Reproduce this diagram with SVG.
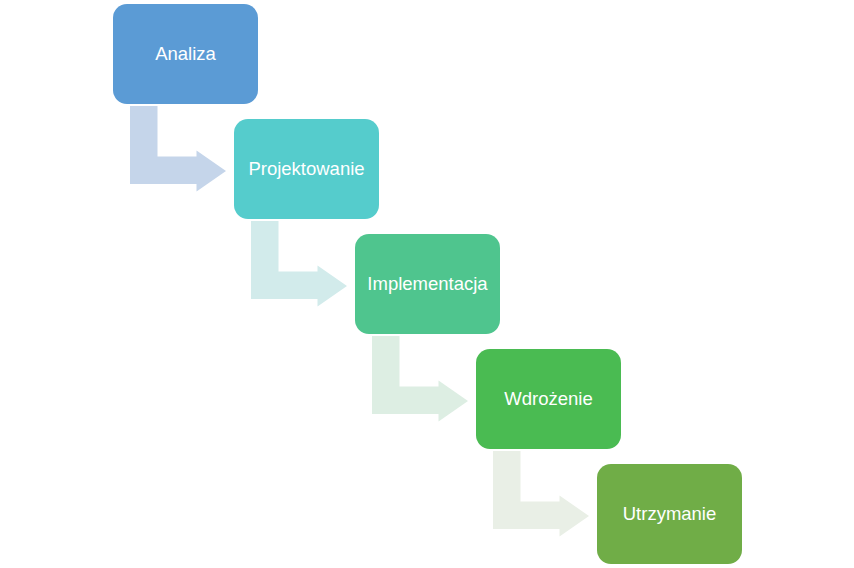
<svg xmlns="http://www.w3.org/2000/svg" width="854" height="568" viewBox="0 0 854 568">
<style>
.lbl{font-family:"Liberation Sans",Arial,sans-serif;font-size:18.5px;fill:#ffffff;text-anchor:middle}
</style>
<rect width="854" height="568" fill="#ffffff"/>
<g id="connectors">
<path d="M130 106 H157.5 V156.5 H196.5 V150.5 L226 171 L196.5 191.5 V184 H130 Z" fill="#C5D5EA"/>
<path d="M251 221 H278.5 V271.5 H317.5 V265.5 L347 286 L317.5 306.5 V299 H251 Z" fill="#D2EBEB"/>
<path d="M372 336 H399.5 V386.5 H438.5 V380.5 L468 401 L438.5 421.5 V414 H372 Z" fill="#DDEEE3"/>
<path d="M493 451 H520.5 V501.5 H559.5 V495.5 L589 516 L559.5 536.5 V529 H493 Z" fill="#E9EFE6"/>
</g>
<g id="analiza"><rect x="113" y="4" width="145" height="100" rx="14" fill="#5B9BD5"/><text class="lbl" x="185.5" y="60">Analiza</text></g>
<g id="projektowanie"><rect x="234" y="119" width="145" height="100" rx="14" fill="#55CCCC"/><text class="lbl" x="306.5" y="175">Projektowanie</text></g>
<g id="implementacja"><rect x="355" y="234" width="145" height="100" rx="14" fill="#4FC58E"/><text class="lbl" x="427.5" y="290">Implementacja</text></g>
<g id="wdrozenie"><rect x="476" y="349" width="145" height="100" rx="14" fill="#4ABB52"/><text class="lbl" x="548.5" y="405">Wdrożenie</text></g>
<g id="utrzymanie"><rect x="597" y="464" width="145" height="100" rx="14" fill="#70AD47"/><text class="lbl" x="669.5" y="520">Utrzymanie</text></g>
</svg>
